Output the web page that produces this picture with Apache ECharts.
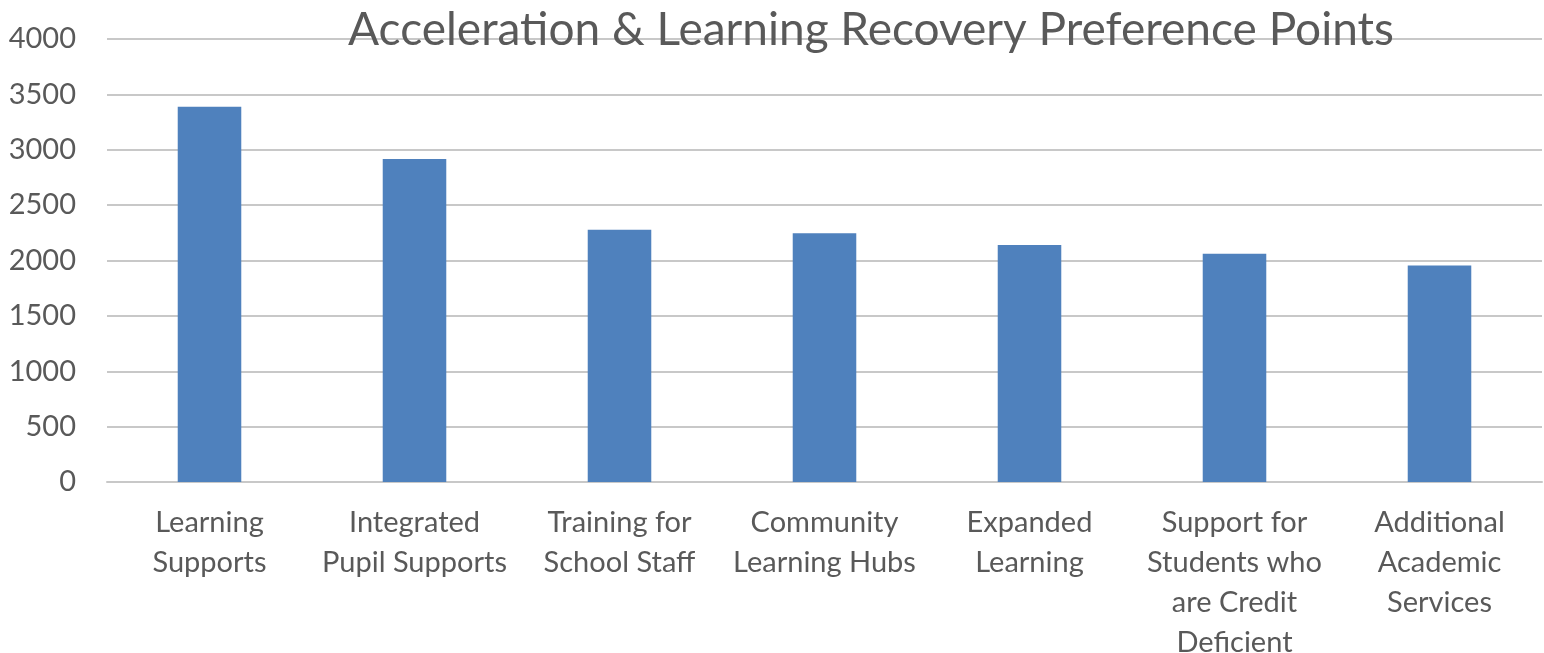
<!DOCTYPE html>
<html>
<head>
<meta charset="utf-8">
<script src="https://cdn.jsdelivr.net/npm/echarts@6/dist/echarts.min.js"></script>
<style>
  html, body { margin: 0; padding: 0; background: #fff; }
  #chart { width: 1544px; height: 653px; }
</style>
</head>
<body>
<div id="chart"></div>
<script>
// 数据
const categories = [
  'Learning\nSupports',
  'Integrated\nPupil Supports',
  'Training for\nSchool Staff',
  'Community\nLearning Hubs',
  'Expanded\nLearning',
  'Support for\nStudents who\nare Credit\nDeficient',
  'Additional\nAcademic\nServices'
];
const points = [3388, 2916, 2277, 2247, 2139, 2060, 1955];
const yTicks = [0, 500, 1000, 1500, 2000, 2500, 3000, 3500, 4000];

const chart = echarts.init(document.getElementById('chart'), null, { renderer: 'canvas' });

chart.setOption({
  animation: false,
  title: {
    text: 'Acceleration & Learning Recovery Preference Points',
    left: 866,
    textAlign: 'center',
    top: 2,
    textStyle: { fontFamily: 'Lato', fontSize: 46, fontWeight: 'normal', color: '#595959' }
  },
  grid: { left: 107, right: 2, top: 39, bottom: 171, outerBoundsMode: 'none', containLabel: false },
  xAxis: {
    type: 'category',
    data: categories,
    axisTick: { show: false },
    axisLine: { lineStyle: { color: '#c8c8c8', width: 2 } },
    axisLabel: {
      interval: 0,
      margin: 21,
      color: '#595959',
      fontFamily: 'Lato',
      fontSize: 29,
      lineHeight: 40
    }
  },
  yAxis: {
    type: 'value',
    min: yTicks[0],
    max: yTicks[yTicks.length - 1],
    interval: 500,
    axisLine: { show: false },
    axisTick: { show: false },
    splitLine: { lineStyle: { color: '#c8c8c8', width: 2 } },
    axisLabel: {
      margin: 31,
      color: '#595959',
      fontFamily: 'Lato',
      fontSize: 29,
      formatter: v => String(v)
    }
  },
  series: [{
    type: 'bar',
    data: points,
    barWidth: '31%',
    itemStyle: { color: '#4f81bd' }
  }]
});
</script>
</body>
</html>
